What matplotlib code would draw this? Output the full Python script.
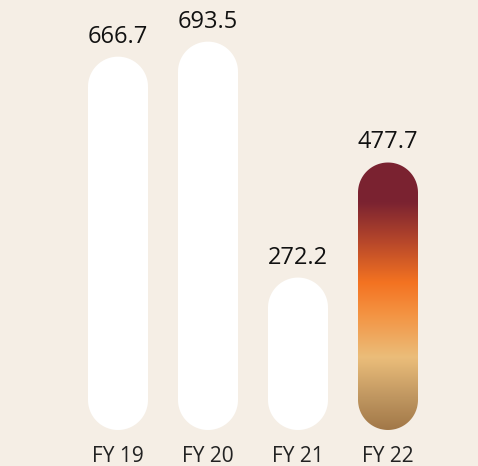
import matplotlib

matplotlib.use("Agg")
import matplotlib.pyplot as plt
import numpy as np
from matplotlib.colors import LinearSegmentedColormap
from matplotlib.patches import Polygon

years = ["FY 19", "FY 20", "FY 21", "FY 22"]
values = [666.7, 693.5, 272.2, 477.7]
labels = ["666.7", "693.5", "272.2", "477.7"]
highlight = "FY 22"

BG = "#f5eee5"
# gradient stops, bottom -> top of the highlighted bar
grad_stops = [
    (0.00, "#a27848"),
    (0.12, "#bf9660"),
    (0.27, "#ebbd7a"),
    (0.42, "#f39646"),
    (0.55, "#f47321"),
    (0.70, "#b8482a"),
    (0.85, "#7b2331"),
    (1.00, "#7a2230"),
]

plt.rcParams["font.family"] = ["Open Sans", "DejaVu Sans"]

W, H = 478, 466
fig = plt.figure(figsize=(W / 100, H / 100), dpi=100, facecolor=BG)
ax = fig.add_axes([0, 0, 1, 1])
ax.set_facecolor(BG)

# pixel mapping: bar pitch 90 px, first center at 118 px, baseline 36 px up, 0.56 px per unit
px_x = 90.0
px_y = 0.56
x0_px = 118.0
base_px = 36.0
ax.set_xlim(-x0_px / px_x, (W - x0_px) / px_x)
ax.set_ylim(-base_px / px_y, (H - base_px) / px_y)
ax.axis("off")

bar_w = 60.0 / px_x
rx = bar_w / 2
ry = 30.0 / px_y
cmap = LinearSegmentedColormap.from_list("fy", grad_stops)


def pill(xc, top):
    # capsule outline: half circle on top and bottom (circular on screen)
    t_top = np.linspace(0, np.pi, 60)
    t_bot = np.linspace(np.pi, 2 * np.pi, 60)
    xs = np.concatenate([xc + rx * np.cos(t_top), xc + rx * np.cos(t_bot)])
    ys = np.concatenate([top - ry + ry * np.sin(t_top), ry + ry * np.sin(t_bot)])
    return np.column_stack([xs, ys])


for i, (yr, val, lab) in enumerate(zip(years, values, labels)):
    patch = Polygon(pill(i, val), closed=True, facecolor="white", edgecolor="none", zorder=2)
    ax.add_patch(patch)
    if yr == highlight:
        grad = np.linspace(0, 1, 256).reshape(-1, 1)
        im = ax.imshow(
            grad, cmap=cmap, origin="lower", aspect="auto",
            extent=(i - rx, i + rx, 0, val), zorder=3,
            interpolation="bilinear",
        )
        im.set_clip_path(patch)
    ax.text(i, val + 8 / px_y, lab, ha="center", va="bottom", fontsize=17, color="#111111", zorder=4)
    ax.text(i, -26 / px_y, yr, ha="center", va="center", fontsize=15, color="#222222", zorder=4)

fig.savefig("out.png", dpi=100, facecolor=BG)
